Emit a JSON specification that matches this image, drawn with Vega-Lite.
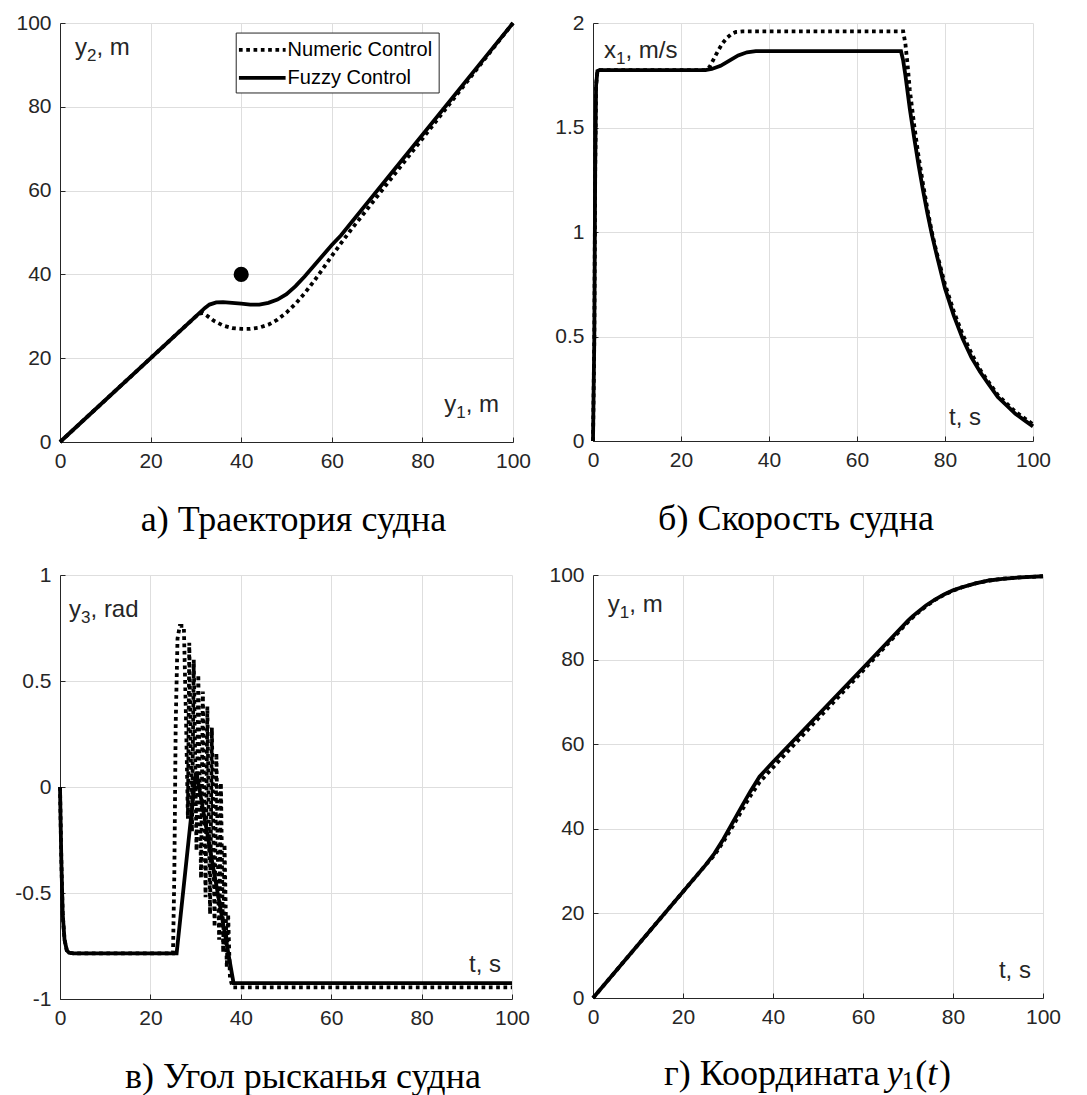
{
  "$schema": "https://vega.github.io/schema/vega-lite/v6.json",
  "background": "white",
  "padding": {"left": 14, "top": 12, "right": 5, "bottom": 5},
  "config": {
    "view": {"stroke": null},
    "axis": {
      "title": null,
      "domainColor": "#262626",
      "domainWidth": 1,
      "tickColor": "#262626",
      "tickSize": -5,
      "labelColor": "#262626",
      "labelFont": "Liberation Sans",
      "labelFontSize": 21,
      "gridColor": "#dedede",
      "gridWidth": 1
    },
    "axisX": {"labelPadding": 13, "labelFlush": false},
    "axisY": {"labelPadding": 14},
    "title": {"font": "Liberation Serif", "fontSize": 36, "fontWeight": "normal", "color": "black", "orient": "bottom", "offset": 32}
  },
  "datasets": {
    "traj": [
      {"series": "Numeric Control", "x": 0, "y": 0},
      {"series": "Numeric Control", "x": 30.5, "y": 30.5},
      {"series": "Numeric Control", "x": 31.5, "y": 30.8},
      {"series": "Numeric Control", "x": 32.5, "y": 30.1},
      {"series": "Numeric Control", "x": 34, "y": 28.9},
      {"series": "Numeric Control", "x": 36, "y": 27.8},
      {"series": "Numeric Control", "x": 38, "y": 27.2},
      {"series": "Numeric Control", "x": 40, "y": 27},
      {"series": "Numeric Control", "x": 42, "y": 27},
      {"series": "Numeric Control", "x": 44, "y": 27.3},
      {"series": "Numeric Control", "x": 46, "y": 28},
      {"series": "Numeric Control", "x": 48, "y": 29.2},
      {"series": "Numeric Control", "x": 50, "y": 30.9},
      {"series": "Numeric Control", "x": 52, "y": 33},
      {"series": "Numeric Control", "x": 54, "y": 35.5},
      {"series": "Numeric Control", "x": 56, "y": 38.3},
      {"series": "Numeric Control", "x": 58, "y": 41.3},
      {"series": "Numeric Control", "x": 60, "y": 44.4},
      {"series": "Numeric Control", "x": 62, "y": 47.4},
      {"series": "Numeric Control", "x": 64, "y": 50.3},
      {"series": "Numeric Control", "x": 100, "y": 100},
      {"series": "Fuzzy Control", "x": 0, "y": 0},
      {"series": "Fuzzy Control", "x": 31, "y": 31},
      {"series": "Fuzzy Control", "x": 32, "y": 32},
      {"series": "Fuzzy Control", "x": 33, "y": 32.8},
      {"series": "Fuzzy Control", "x": 34.5, "y": 33.3},
      {"series": "Fuzzy Control", "x": 36, "y": 33.4},
      {"series": "Fuzzy Control", "x": 38, "y": 33.2},
      {"series": "Fuzzy Control", "x": 40, "y": 33},
      {"series": "Fuzzy Control", "x": 42, "y": 32.8},
      {"series": "Fuzzy Control", "x": 44, "y": 32.8},
      {"series": "Fuzzy Control", "x": 46, "y": 33.2},
      {"series": "Fuzzy Control", "x": 48, "y": 34},
      {"series": "Fuzzy Control", "x": 50, "y": 35.3},
      {"series": "Fuzzy Control", "x": 52, "y": 37.2},
      {"series": "Fuzzy Control", "x": 54, "y": 39.5},
      {"series": "Fuzzy Control", "x": 56, "y": 42},
      {"series": "Fuzzy Control", "x": 58, "y": 44.5},
      {"series": "Fuzzy Control", "x": 60, "y": 47},
      {"series": "Fuzzy Control", "x": 62, "y": 49.3},
      {"series": "Fuzzy Control", "x": 100, "y": 100}
    ],
    "speed": [
      {"series": "Numeric Control", "x": 0, "y": 0},
      {"series": "Numeric Control", "x": 0.3, "y": 0.5},
      {"series": "Numeric Control", "x": 0.5, "y": 1.3},
      {"series": "Numeric Control", "x": 0.7, "y": 1.7},
      {"series": "Numeric Control", "x": 1, "y": 1.77},
      {"series": "Numeric Control", "x": 1.5, "y": 1.775},
      {"series": "Numeric Control", "x": 25.5, "y": 1.775},
      {"series": "Numeric Control", "x": 26.5, "y": 1.79},
      {"series": "Numeric Control", "x": 27.5, "y": 1.83},
      {"series": "Numeric Control", "x": 28.5, "y": 1.87},
      {"series": "Numeric Control", "x": 29.5, "y": 1.905},
      {"series": "Numeric Control", "x": 30.5, "y": 1.93},
      {"series": "Numeric Control", "x": 31.5, "y": 1.948},
      {"series": "Numeric Control", "x": 32.5, "y": 1.957},
      {"series": "Numeric Control", "x": 34, "y": 1.96},
      {"series": "Numeric Control", "x": 70.5, "y": 1.96},
      {"series": "Numeric Control", "x": 71, "y": 1.9},
      {"series": "Numeric Control", "x": 71.5, "y": 1.8},
      {"series": "Numeric Control", "x": 72, "y": 1.68},
      {"series": "Numeric Control", "x": 73, "y": 1.51},
      {"series": "Numeric Control", "x": 74, "y": 1.36},
      {"series": "Numeric Control", "x": 75, "y": 1.23},
      {"series": "Numeric Control", "x": 76, "y": 1.11},
      {"series": "Numeric Control", "x": 77, "y": 1.0},
      {"series": "Numeric Control", "x": 78, "y": 0.91},
      {"series": "Numeric Control", "x": 80, "y": 0.75},
      {"series": "Numeric Control", "x": 82, "y": 0.62},
      {"series": "Numeric Control", "x": 84, "y": 0.51},
      {"series": "Numeric Control", "x": 86, "y": 0.42},
      {"series": "Numeric Control", "x": 88, "y": 0.34},
      {"series": "Numeric Control", "x": 90, "y": 0.28},
      {"series": "Numeric Control", "x": 92, "y": 0.22},
      {"series": "Numeric Control", "x": 94, "y": 0.18},
      {"series": "Numeric Control", "x": 96, "y": 0.14},
      {"series": "Numeric Control", "x": 98, "y": 0.11},
      {"series": "Numeric Control", "x": 100, "y": 0.08},
      {"series": "Fuzzy Control", "x": 0, "y": 0},
      {"series": "Fuzzy Control", "x": 0.3, "y": 0.5},
      {"series": "Fuzzy Control", "x": 0.5, "y": 1.3},
      {"series": "Fuzzy Control", "x": 0.7, "y": 1.7},
      {"series": "Fuzzy Control", "x": 1, "y": 1.77},
      {"series": "Fuzzy Control", "x": 1.5, "y": 1.775},
      {"series": "Fuzzy Control", "x": 25.5, "y": 1.775},
      {"series": "Fuzzy Control", "x": 27, "y": 1.78},
      {"series": "Fuzzy Control", "x": 29, "y": 1.795},
      {"series": "Fuzzy Control", "x": 31, "y": 1.82},
      {"series": "Fuzzy Control", "x": 33, "y": 1.845},
      {"series": "Fuzzy Control", "x": 35, "y": 1.86},
      {"series": "Fuzzy Control", "x": 37, "y": 1.865},
      {"series": "Fuzzy Control", "x": 70, "y": 1.865},
      {"series": "Fuzzy Control", "x": 70.5, "y": 1.82},
      {"series": "Fuzzy Control", "x": 71, "y": 1.75},
      {"series": "Fuzzy Control", "x": 72, "y": 1.59},
      {"series": "Fuzzy Control", "x": 73, "y": 1.45},
      {"series": "Fuzzy Control", "x": 74, "y": 1.32},
      {"series": "Fuzzy Control", "x": 75, "y": 1.2},
      {"series": "Fuzzy Control", "x": 76, "y": 1.09},
      {"series": "Fuzzy Control", "x": 77, "y": 0.99},
      {"series": "Fuzzy Control", "x": 78, "y": 0.9},
      {"series": "Fuzzy Control", "x": 80, "y": 0.73},
      {"series": "Fuzzy Control", "x": 82, "y": 0.6},
      {"series": "Fuzzy Control", "x": 84, "y": 0.49},
      {"series": "Fuzzy Control", "x": 86, "y": 0.4},
      {"series": "Fuzzy Control", "x": 88, "y": 0.33},
      {"series": "Fuzzy Control", "x": 90, "y": 0.27},
      {"series": "Fuzzy Control", "x": 92, "y": 0.21},
      {"series": "Fuzzy Control", "x": 94, "y": 0.17},
      {"series": "Fuzzy Control", "x": 96, "y": 0.13},
      {"series": "Fuzzy Control", "x": 98, "y": 0.1},
      {"series": "Fuzzy Control", "x": 100, "y": 0.07}
    ],
    "yaw": [
      {"series": "Numeric Control", "x": 0, "y": 0},
      {"series": "Numeric Control", "x": 0.3, "y": -0.35},
      {"series": "Numeric Control", "x": 0.6, "y": -0.6},
      {"series": "Numeric Control", "x": 1, "y": -0.72},
      {"series": "Numeric Control", "x": 1.5, "y": -0.77},
      {"series": "Numeric Control", "x": 2, "y": -0.782},
      {"series": "Numeric Control", "x": 3, "y": -0.785},
      {"series": "Numeric Control", "x": 25, "y": -0.785},
      {"series": "Numeric Control", "x": 25.3, "y": -0.4},
      {"series": "Numeric Control", "x": 25.6, "y": 0.3},
      {"series": "Numeric Control", "x": 26, "y": 0.7},
      {"series": "Numeric Control", "x": 26.5, "y": 0.76},
      {"series": "Numeric Control", "x": 27.4, "y": 0.76},
      {"series": "Numeric Control", "x": 27.9, "y": 0.3},
      {"series": "Numeric Control", "x": 28.3, "y": -0.15},
      {"series": "Numeric Control", "x": 28.6, "y": 0.68},
      {"series": "Numeric Control", "x": 29.2, "y": -0.21},
      {"series": "Numeric Control", "x": 29.6, "y": 0.6},
      {"series": "Numeric Control", "x": 30.2, "y": -0.3},
      {"series": "Numeric Control", "x": 30.6, "y": 0.53},
      {"series": "Numeric Control", "x": 31.2, "y": -0.43},
      {"series": "Numeric Control", "x": 31.6, "y": 0.45},
      {"series": "Numeric Control", "x": 32.2, "y": -0.52},
      {"series": "Numeric Control", "x": 32.6, "y": 0.38},
      {"series": "Numeric Control", "x": 33.2, "y": -0.6},
      {"series": "Numeric Control", "x": 33.6, "y": 0.28},
      {"series": "Numeric Control", "x": 34.2, "y": -0.66},
      {"series": "Numeric Control", "x": 34.6, "y": 0.16},
      {"series": "Numeric Control", "x": 35.2, "y": -0.72},
      {"series": "Numeric Control", "x": 35.6, "y": 0.02},
      {"series": "Numeric Control", "x": 36.1, "y": -0.78},
      {"series": "Numeric Control", "x": 36.4, "y": -0.27},
      {"series": "Numeric Control", "x": 36.9, "y": -0.85},
      {"series": "Numeric Control", "x": 37.2, "y": -0.6},
      {"series": "Numeric Control", "x": 37.6, "y": -0.9},
      {"series": "Numeric Control", "x": 38.2, "y": -0.945},
      {"series": "Numeric Control", "x": 100, "y": -0.945},
      {"series": "Fuzzy Control", "x": 0, "y": 0},
      {"series": "Fuzzy Control", "x": 0.3, "y": -0.35},
      {"series": "Fuzzy Control", "x": 0.6, "y": -0.6},
      {"series": "Fuzzy Control", "x": 1, "y": -0.72},
      {"series": "Fuzzy Control", "x": 1.5, "y": -0.77},
      {"series": "Fuzzy Control", "x": 2, "y": -0.782},
      {"series": "Fuzzy Control", "x": 3, "y": -0.785},
      {"series": "Fuzzy Control", "x": 25.8, "y": -0.785},
      {"series": "Fuzzy Control", "x": 29.8, "y": 0.02},
      {"series": "Fuzzy Control", "x": 30.2, "y": 0.07},
      {"series": "Fuzzy Control", "x": 30.6, "y": 0.02},
      {"series": "Fuzzy Control", "x": 38.4, "y": -0.925},
      {"series": "Fuzzy Control", "x": 100, "y": -0.925}
    ],
    "coord": [
      {"series": "Numeric Control", "x": 0, "y": 0},
      {"series": "Numeric Control", "x": 25, "y": 31.4},
      {"series": "Numeric Control", "x": 27, "y": 33.8},
      {"series": "Numeric Control", "x": 29, "y": 37},
      {"series": "Numeric Control", "x": 31, "y": 40.5},
      {"series": "Numeric Control", "x": 33, "y": 44.2},
      {"series": "Numeric Control", "x": 35, "y": 47.8},
      {"series": "Numeric Control", "x": 37, "y": 51},
      {"series": "Numeric Control", "x": 40, "y": 54.5},
      {"series": "Numeric Control", "x": 50, "y": 66},
      {"series": "Numeric Control", "x": 60, "y": 77.4},
      {"series": "Numeric Control", "x": 70, "y": 88.9},
      {"series": "Numeric Control", "x": 71, "y": 89.9},
      {"series": "Numeric Control", "x": 72, "y": 90.9},
      {"series": "Numeric Control", "x": 74, "y": 92.6},
      {"series": "Numeric Control", "x": 76, "y": 94.1},
      {"series": "Numeric Control", "x": 78, "y": 95.3},
      {"series": "Numeric Control", "x": 80, "y": 96.3},
      {"series": "Numeric Control", "x": 82, "y": 97.1},
      {"series": "Numeric Control", "x": 85, "y": 98},
      {"series": "Numeric Control", "x": 88, "y": 98.7},
      {"series": "Numeric Control", "x": 91, "y": 99.1},
      {"series": "Numeric Control", "x": 95, "y": 99.45},
      {"series": "Numeric Control", "x": 100, "y": 99.7},
      {"series": "Fuzzy Control", "x": 0, "y": 0},
      {"series": "Fuzzy Control", "x": 25, "y": 31.4},
      {"series": "Fuzzy Control", "x": 27, "y": 34.2},
      {"series": "Fuzzy Control", "x": 29, "y": 37.6},
      {"series": "Fuzzy Control", "x": 31, "y": 41.4},
      {"series": "Fuzzy Control", "x": 33, "y": 45.2},
      {"series": "Fuzzy Control", "x": 35, "y": 48.9},
      {"series": "Fuzzy Control", "x": 37, "y": 52.3},
      {"series": "Fuzzy Control", "x": 40, "y": 55.8},
      {"series": "Fuzzy Control", "x": 50, "y": 66.9},
      {"series": "Fuzzy Control", "x": 60, "y": 78},
      {"series": "Fuzzy Control", "x": 70, "y": 89.2},
      {"series": "Fuzzy Control", "x": 71, "y": 90.2},
      {"series": "Fuzzy Control", "x": 72, "y": 91.1},
      {"series": "Fuzzy Control", "x": 74, "y": 92.8},
      {"series": "Fuzzy Control", "x": 76, "y": 94.2},
      {"series": "Fuzzy Control", "x": 78, "y": 95.4},
      {"series": "Fuzzy Control", "x": 80, "y": 96.4},
      {"series": "Fuzzy Control", "x": 82, "y": 97.1},
      {"series": "Fuzzy Control", "x": 85, "y": 98},
      {"series": "Fuzzy Control", "x": 88, "y": 98.7},
      {"series": "Fuzzy Control", "x": 91, "y": 99.1},
      {"series": "Fuzzy Control", "x": 95, "y": 99.45},
      {"series": "Fuzzy Control", "x": 100, "y": 99.7}
    ],
    "legendrows": [
      {"series": "Numeric Control", "x1": 39.5, "x2": 49.8, "y": 93.6},
      {"series": "Fuzzy Control", "x1": 39.5, "x2": 49.8, "y": 86.9}
    ]
  },
  "columns": 2,
  "bounds": "flush",
  "align": "each",
  "spacing": {"row": 133, "column": 80},
  "concat": [
    {
      "width": 453,
      "height": 419,
      "title": {"text": "а) Траектория судна", "dx": 7},
      "layer": [
        {
          "data": {"name": "traj"},
          "transform": [{"filter": "datum.series === 'Numeric Control'"}],
          "mark": {"type": "line", "color": "black", "strokeWidth": 3.8, "strokeCap": "butt", "strokeDash": [3.7, 3.6]},
          "encoding": {
            "x": {"field": "x", "type": "quantitative", "scale": {"domain": [0, 100]}, "axis": {"values": [0, 20, 40, 60, 80, 100]}},
            "y": {"field": "y", "type": "quantitative", "scale": {"domain": [0, 100]}, "axis": {"values": [0, 20, 40, 60, 80, 100]}}
          }
        },
        {
          "data": {"name": "traj"},
          "transform": [{"filter": "datum.series === 'Fuzzy Control'"}],
          "mark": {"type": "line", "color": "black", "strokeWidth": 3.8, "strokeCap": "butt"},
          "encoding": {"x": {"field": "x", "type": "quantitative"}, "y": {"field": "y", "type": "quantitative"}}
        },
        {
          "data": {"values": [{"x": 40, "y": 40}]},
          "mark": {"type": "point", "filled": true, "color": "black", "size": 230, "opacity": 1},
          "encoding": {"x": {"field": "x", "type": "quantitative"}, "y": {"field": "y", "type": "quantitative"}}
        },
        {
          "data": {"values": [{"x1": 38.9, "x2": 83.7, "y1": 83.3, "y2": 97.6}]},
          "mark": {"type": "rect", "fill": "white", "stroke": "#262626", "strokeWidth": 1},
          "encoding": {
            "x": {"field": "x1", "type": "quantitative"}, "x2": {"field": "x2"},
            "y": {"field": "y1", "type": "quantitative"}, "y2": {"field": "y2"}
          }
        },
        {
          "data": {"name": "legendrows"},
          "mark": {"type": "rule", "color": "black", "strokeWidth": 3.8, "strokeCap": "butt"},
          "encoding": {
            "x": {"field": "x1", "type": "quantitative"}, "x2": {"field": "x2"},
            "y": {"field": "y", "type": "quantitative"},
            "strokeDash": {"field": "series", "type": "nominal", "scale": {"domain": ["Numeric Control", "Fuzzy Control"], "range": [[3.7, 3.6], [1, 0]]}, "legend": null}
          }
        },
        {
          "data": {"name": "legendrows"},
          "mark": {"type": "text", "align": "left", "baseline": "middle", "font": "Liberation Sans", "fontSize": 20, "color": "black", "dx": 2},
          "encoding": {
            "x": {"field": "x2", "type": "quantitative"},
            "y": {"field": "y", "type": "quantitative"},
            "text": {"field": "series"}
          }
        },
        {
          "data": {"values": [{"x": 3.3, "y": 92.4, "base": "y", "sub": "2", "rest": ", m"}, {"x": 84.8, "y": 7.2, "base": "y", "sub": "1", "rest": ", m"}]},
          "layer": [
            {"mark": {"type": "text", "align": "left", "baseline": "alphabetic", "font": "Liberation Sans", "fontSize": 24, "color": "#262626"},
             "encoding": {"x": {"field": "x", "type": "quantitative"}, "y": {"field": "y", "type": "quantitative"}, "text": {"field": "base"}}},
            {"mark": {"type": "text", "align": "left", "baseline": "alphabetic", "font": "Liberation Sans", "fontSize": 17, "color": "#262626", "dx": 12, "dy": 6},
             "encoding": {"x": {"field": "x", "type": "quantitative"}, "y": {"field": "y", "type": "quantitative"}, "text": {"field": "sub"}}},
            {"mark": {"type": "text", "align": "left", "baseline": "alphabetic", "font": "Liberation Sans", "fontSize": 24, "color": "#262626", "dx": 21.5},
             "encoding": {"x": {"field": "x", "type": "quantitative"}, "y": {"field": "y", "type": "quantitative"}, "text": {"field": "rest"}}}
          ]
        }
      ]
    },
    {
      "width": 440,
      "height": 418,
      "title": {"text": "б) Скорость судна", "dx": -17},
      "layer": [
        {
          "data": {"name": "speed"},
          "transform": [{"filter": "datum.series === 'Numeric Control'"}],
          "mark": {"type": "line", "color": "black", "strokeWidth": 3.8, "strokeCap": "butt", "strokeDash": [3.7, 3.6]},
          "encoding": {
            "x": {"field": "x", "type": "quantitative", "scale": {"domain": [0, 100]}, "axis": {"values": [0, 20, 40, 60, 80, 100]}},
            "y": {"field": "y", "type": "quantitative", "scale": {"domain": [0, 2]}, "axis": {"values": [0, 0.5, 1, 1.5, 2], "format": "~g"}}
          }
        },
        {
          "data": {"name": "speed"},
          "transform": [{"filter": "datum.series === 'Fuzzy Control'"}],
          "mark": {"type": "line", "color": "black", "strokeWidth": 3.8, "strokeCap": "butt"},
          "encoding": {"x": {"field": "x", "type": "quantitative"}, "y": {"field": "y", "type": "quantitative"}}
        },
        {
          "data": {"values": [{"x": 2.5, "y": 1.833, "base": "x", "sub": "1", "rest": ", m/s"}]},
          "layer": [
            {"mark": {"type": "text", "align": "left", "baseline": "alphabetic", "font": "Liberation Sans", "fontSize": 24, "color": "#262626"},
             "encoding": {"x": {"field": "x", "type": "quantitative"}, "y": {"field": "y", "type": "quantitative"}, "text": {"field": "base"}}},
            {"mark": {"type": "text", "align": "left", "baseline": "alphabetic", "font": "Liberation Sans", "fontSize": 17, "color": "#262626", "dx": 12, "dy": 6},
             "encoding": {"x": {"field": "x", "type": "quantitative"}, "y": {"field": "y", "type": "quantitative"}, "text": {"field": "sub"}}},
            {"mark": {"type": "text", "align": "left", "baseline": "alphabetic", "font": "Liberation Sans", "fontSize": 24, "color": "#262626", "dx": 21.5},
             "encoding": {"x": {"field": "x", "type": "quantitative"}, "y": {"field": "y", "type": "quantitative"}, "text": {"field": "rest"}}}
          ]
        },
        {
          "data": {"values": [{"x": 80.9, "y": 0.077, "label": "t, s"}]},
          "mark": {"type": "text", "align": "left", "baseline": "alphabetic", "font": "Liberation Sans", "fontSize": 24, "color": "#262626"},
          "encoding": {"x": {"field": "x", "type": "quantitative"}, "y": {"field": "y", "type": "quantitative"}, "text": {"field": "label"}}
        }
      ]
    },
    {
      "width": 452,
      "height": 424,
      "title": {"text": "в) Угол рысканья судна", "dx": 17},
      "layer": [
        {
          "data": {"name": "yaw"},
          "transform": [{"filter": "datum.series === 'Numeric Control'"}],
          "mark": {"type": "line", "color": "black", "strokeWidth": 3.8, "strokeCap": "butt", "strokeDash": [3.7, 3.6]},
          "encoding": {
            "x": {"field": "x", "type": "quantitative", "scale": {"domain": [0, 100]}, "axis": {"values": [0, 20, 40, 60, 80, 100]}},
            "y": {"field": "y", "type": "quantitative", "scale": {"domain": [-1, 1]}, "axis": {"values": [-1, -0.5, 0, 0.5, 1], "format": "~g", "labelExpr": "replace(datum.label, '−', '-')"}}
          }
        },
        {
          "data": {"name": "yaw"},
          "transform": [{"filter": "datum.series === 'Fuzzy Control'"}],
          "mark": {"type": "line", "color": "black", "strokeWidth": 3.8, "strokeCap": "butt"},
          "encoding": {"x": {"field": "x", "type": "quantitative"}, "y": {"field": "y", "type": "quantitative"}}
        },
        {
          "data": {"values": [{"x": 2.0, "y": 0.8, "base": "y", "sub": "3", "rest": ", rad"}]},
          "layer": [
            {"mark": {"type": "text", "align": "left", "baseline": "alphabetic", "font": "Liberation Sans", "fontSize": 24, "color": "#262626"},
             "encoding": {"x": {"field": "x", "type": "quantitative"}, "y": {"field": "y", "type": "quantitative"}, "text": {"field": "base"}}},
            {"mark": {"type": "text", "align": "left", "baseline": "alphabetic", "font": "Liberation Sans", "fontSize": 17, "color": "#262626", "dx": 12, "dy": 6},
             "encoding": {"x": {"field": "x", "type": "quantitative"}, "y": {"field": "y", "type": "quantitative"}, "text": {"field": "sub"}}},
            {"mark": {"type": "text", "align": "left", "baseline": "alphabetic", "font": "Liberation Sans", "fontSize": 24, "color": "#262626", "dx": 21.5},
             "encoding": {"x": {"field": "x", "type": "quantitative"}, "y": {"field": "y", "type": "quantitative"}, "text": {"field": "rest"}}}
          ]
        },
        {
          "data": {"values": [{"x": 90.5, "y": -0.873, "label": "t, s"}]},
          "mark": {"type": "text", "align": "left", "baseline": "alphabetic", "font": "Liberation Sans", "fontSize": 24, "color": "#262626"},
          "encoding": {"x": {"field": "x", "type": "quantitative"}, "y": {"field": "y", "type": "quantitative"}, "text": {"field": "label"}}
        }
      ]
    },
    {
      "width": 450,
      "height": 423,
      "layer": [
        {
          "data": {"name": "coord"},
          "transform": [{"filter": "datum.series === 'Numeric Control'"}],
          "mark": {"type": "line", "color": "black", "strokeWidth": 3.8, "strokeCap": "butt", "strokeDash": [3.7, 3.6]},
          "encoding": {
            "x": {"field": "x", "type": "quantitative", "scale": {"domain": [0, 100]}, "axis": {"values": [0, 20, 40, 60, 80, 100]}},
            "y": {"field": "y", "type": "quantitative", "scale": {"domain": [0, 100]}, "axis": {"values": [0, 20, 40, 60, 80, 100]}}
          }
        },
        {
          "data": {"name": "coord"},
          "transform": [{"filter": "datum.series === 'Fuzzy Control'"}],
          "mark": {"type": "line", "color": "black", "strokeWidth": 3.8, "strokeCap": "butt"},
          "encoding": {"x": {"field": "x", "type": "quantitative"}, "y": {"field": "y", "type": "quantitative"}}
        },
        {
          "data": {"values": [{"x": 3.3, "y": 91.3, "base": "y", "sub": "1", "rest": ", m"}]},
          "layer": [
            {"mark": {"type": "text", "align": "left", "baseline": "alphabetic", "font": "Liberation Sans", "fontSize": 24, "color": "#262626"},
             "encoding": {"x": {"field": "x", "type": "quantitative"}, "y": {"field": "y", "type": "quantitative"}, "text": {"field": "base"}}},
            {"mark": {"type": "text", "align": "left", "baseline": "alphabetic", "font": "Liberation Sans", "fontSize": 17, "color": "#262626", "dx": 12, "dy": 6},
             "encoding": {"x": {"field": "x", "type": "quantitative"}, "y": {"field": "y", "type": "quantitative"}, "text": {"field": "sub"}}},
            {"mark": {"type": "text", "align": "left", "baseline": "alphabetic", "font": "Liberation Sans", "fontSize": 24, "color": "#262626", "dx": 21.5},
             "encoding": {"x": {"field": "x", "type": "quantitative"}, "y": {"field": "y", "type": "quantitative"}, "text": {"field": "rest"}}}
          ]
        },
        {
          "data": {"values": [{"x": 90.2, "y": 4.7, "label": "t, s"}]},
          "mark": {"type": "text", "align": "left", "baseline": "alphabetic", "font": "Liberation Sans", "fontSize": 24, "color": "#262626"},
          "encoding": {"x": {"field": "x", "type": "quantitative"}, "y": {"field": "y", "type": "quantitative"}, "text": {"field": "label"}}
        },
        {
          "data": {"values": [{"x": 15.8, "y": -20.6, "label": "г) Координата"}, {"x": 71.6, "y": -20.6, "label": "("}, {"x": 76.9, "y": -20.6, "label": ")"}]},
          "mark": {"type": "text", "align": "left", "baseline": "alphabetic", "font": "Liberation Serif", "fontSize": 36, "color": "black"},
          "encoding": {"x": {"field": "x", "type": "quantitative"}, "y": {"field": "y", "type": "quantitative"}, "text": {"field": "label"}}
        },
        {
          "data": {"values": [{"x": 65.3, "y": -20.6, "label": "y"}, {"x": 74.3, "y": -20.6, "label": "t"}]},
          "mark": {"type": "text", "align": "left", "baseline": "alphabetic", "font": "Liberation Serif", "fontStyle": "italic", "fontSize": 36, "color": "black"},
          "encoding": {"x": {"field": "x", "type": "quantitative"}, "y": {"field": "y", "type": "quantitative"}, "text": {"field": "label"}}
        },
        {
          "data": {"values": [{"x": 68.6, "y": -21.5, "label": "1"}]},
          "mark": {"type": "text", "align": "left", "baseline": "alphabetic", "font": "Liberation Serif", "fontSize": 25, "color": "black"},
          "encoding": {"x": {"field": "x", "type": "quantitative"}, "y": {"field": "y", "type": "quantitative"}, "text": {"field": "label"}}
        }
      ]
    }
  ]
}
